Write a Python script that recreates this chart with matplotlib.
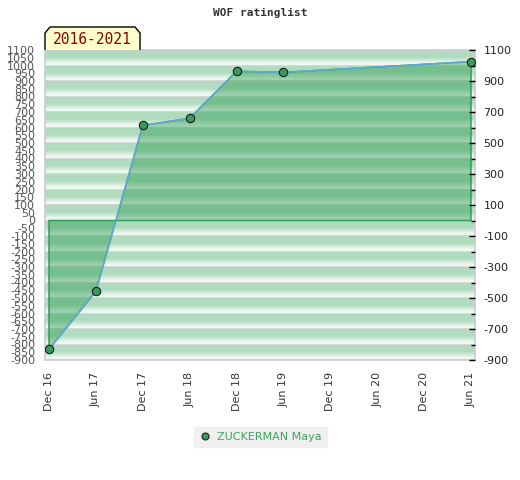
import numpy as np
import matplotlib
matplotlib.use("Agg")
import matplotlib.pyplot as plt
from matplotlib.patches import Polygon
from matplotlib.lines import Line2D

# ---- data ----
dates = ['Dec 16', 'Jun 17', 'Dec 17', 'Jun 18', 'Dec 18', 'Jun 19',
         'Dec 19', 'Jun 20', 'Dec 20', 'Jun 21']
rating = [-831, -457, 614, 659, 963, 956, np.nan, np.nan, np.nan, 1025]
player = 'ZUCKERMAN Maya'
period = '2016-2021'
title = 'WOF ratinglist'
left_ticks = list(range(-900, 1101, 50))
right_major = list(range(-900, 1101, 200))
right_minor = list(range(-800, 1001, 200))

W, H = 520, 480
fig = plt.figure(figsize=(W / 100, H / 100), dpi=100)
ax = fig.add_axes([45 / W, 1 - 360 / H, 430 / W, 310 / H])

ymin, ymax = -900, 1100
xs = np.arange(len(dates))
x0, x1 = -4 / 46.9, len(dates) - 1 + 4 / 46.9
ax.set_xlim(x0, x1)
ax.set_ylim(ymin, ymax)

# ---- striped background ----
def hex2rgb(h):
    h = h.lstrip('#')
    return np.array([int(h[i:i + 2], 16) for i in (0, 2, 4)]) / 255.0

green = hex2rgb('#b0dbbf')
white = hex2rgb('#f1f8f3')
grey = hex2rgb('#d6d9d7')
vals = np.arange(ymin, ymax) + 0.5
img = np.zeros((len(vals), 1, 3))
for i, v in enumerate(vals):
    f = (v % 100) / 100.0
    if f < 0.04:
        c = grey
    elif f < 0.16:
        c = white
    elif f < 0.55:
        t = (f - 0.16) / 0.39
        c = white * (1 - t) + green * t
    else:
        c = green
    img[i, 0] = c
ax.imshow(img, extent=[x0, x1, ymin, ymax], aspect='auto', origin='lower',
          zorder=0, interpolation='nearest')

# ---- data series ----
r = np.array(rating, dtype=float)
m = ~np.isnan(r)
xv, yv = xs[m], r[m]
ax.fill_between(xv, yv, 0, facecolor='#25964a', alpha=0.42, linewidth=0, zorder=2)
ax.fill_between(xv, yv, 0, facecolor='none', edgecolor='#2f9e55', linewidth=1.1, zorder=3)
ax.plot(xv, yv, color='#62a8dc', lw=1.1, zorder=4)
ax.plot(xv, yv, linestyle='none', marker='o', markersize=6,
        markerfacecolor='#3a9a5c', markeredgecolor='#1a1a1a', markeredgewidth=0.8, zorder=5)

# ---- axes styling ----
for s in ax.spines.values():
    s.set_color('#cccccc')
    s.set_linewidth(1.2)

ax.set_xticks(xs)
ax.set_xticklabels(dates, rotation=90, fontsize=8, color='#333333')
ax.tick_params(axis='x', length=0, pad=8.5)

ax.set_yticks(left_ticks)
ax.set_yticklabels([str(v) for v in left_ticks], fontsize=8, color='#555555')
ax.tick_params(axis='y', length=0, pad=7)

ax2 = ax.twinx()
ax2.set_ylim(ymin, ymax)
ax2.set_yticks(right_major)
ax2.set_yticklabels([str(v) for v in right_major], fontsize=8, color='#222222')
ax2.set_yticks(right_minor, minor=True)
ax2.tick_params(axis='y', which='major', direction='in', length=4, width=1, color='black', pad=6)
ax2.tick_params(axis='y', which='minor', direction='in', length=3, width=1, color='black')
for s in ax2.spines.values():
    s.set_visible(False)

# ---- title ----
fig.text(260 / W, 1 - 13 / H, title, ha='center', va='center',
         family='DejaVu Sans Mono', weight='bold', fontsize=8, color='#333333')

# ---- period label box ----
pts = [(45, 50), (45, 33), (50, 27), (135, 27), (140, 33), (140, 50)]
poly = Polygon([(px / W, 1 - py / H) for px, py in pts], closed=False,
               transform=fig.transFigure, facecolor='#ffffcc', edgecolor='black',
               linewidth=1, zorder=10)
fig.add_artist(poly)
fig.text(92.5 / W, 1 - 40 / H, period, ha='center', va='center',
         family='DejaVu Sans Mono', fontsize=10.5, color='#8b0000', zorder=11)

# ---- legend ----
handle = Line2D([], [], linestyle='none', marker='o', markersize=5,
                markerfacecolor='#3a9a5c', markeredgecolor='#1a1a1a', markeredgewidth=0.8)
leg = fig.legend([handle], [player], loc='center',
                 bbox_to_anchor=(260.5 / W, 1 - 437 / H), frameon=True,
                 fancybox=False, facecolor='#f0f0f0', edgecolor='#f0f0f0',
                 fontsize=8, labelcolor='#3aa55e', handletextpad=0.6,
                 handlelength=1.0, borderpad=0.45, framealpha=1)

fig.savefig('out.png', dpi=100)
